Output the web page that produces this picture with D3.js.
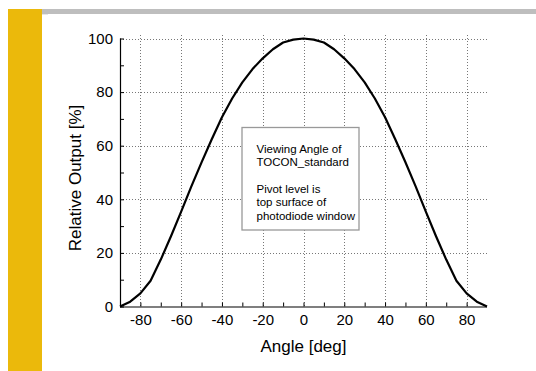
<!DOCTYPE html>
<html lang="en">
<head>
<meta charset="utf-8">
<title>Viewing Angle of TOCON_standard</title>
<script src="https://cdn.jsdelivr.net/npm/d3@7"></script>
<style>
  body { margin: 0; background: #fff; }
  text { font-family: "Liberation Sans", Arial, sans-serif; fill: #000; }
</style>
</head>
<body>
<script>
// measured curve, angle in deg vs relative output in %
var angles = [-90, -85, -80, -75, -70, -65, -60, -55, -50, -45, -40, -35, -30, -25, -20, -15, -10, -5, 0,
              5, 10, 15, 20, 25, 30, 35, 40, 45, 50, 55, 60, 65, 70, 75, 80, 85, 90];
var output = [0, 1.8, 4.9, 9.6, 17.5, 26.2, 35.4, 44.8, 53.8, 62.4, 70.6, 77.6, 83.6, 88.6, 92.6, 96, 98.5, 99.6, 100,
              99.6, 98.5, 96, 92.6, 88.6, 83.6, 77.6, 70.6, 62.4, 53.8, 44.8, 35.4, 26.2, 17.5, 9.6, 4.9, 1.8, 0];

var xTicks = [-80, -60, -40, -20, 0, 20, 40, 60, 80];
var yTicks = [0, 20, 40, 60, 80, 100];
var noteLines = ["Viewing Angle of", "TOCON_standard", "", "Pivot level is", "top surface of", "photodiode window"];

var w = 536, h = 371;

var svg = d3.select("body").append("svg")
    .attr("width", w)
    .attr("height", h);

// page decoration: gold side band and gray top rule
svg.append("rect").attr("x", 8).attr("y", 9).attr("width", 34).attr("height", h - 9).attr("fill", "#ebb90b");
svg.append("rect").attr("x", 42).attr("y", 9).attr("width", w - 42).attr("height", 5).attr("fill", "#bebebe");
svg.append("rect").attr("x", 42).attr("y", 14).attr("width", 6).attr("height", 1).attr("fill", "#e6e6e6");

// scales
var x = d3.scaleLinear().domain([-90, 90]).range([120, 487]);
var y = d3.scaleLinear().domain([0, 100]).range([306.5, 38.5]);

// grid
var grid = svg.append("g")
    .attr("stroke", "#777")
    .attr("stroke-width", 1)
    .attr("stroke-dasharray", "1,2");

grid.selectAll(".vg")
  .data(xTicks)
  .enter()
  .append("line")
  .attr("x1", function(d) { return Math.round(x(d)) + 0.5; })
  .attr("x2", function(d) { return Math.round(x(d)) + 0.5; })
  .attr("y1", 35)
  .attr("y2", y(0));

grid.selectAll(".hg")
  .data(yTicks.filter(function(d) { return d > 0; }))
  .enter()
  .append("line")
  .attr("x1", x(-90))
  .attr("x2", x(90))
  .attr("y1", function(d) { return Math.round(y(d)) + 0.5; })
  .attr("y2", function(d) { return Math.round(y(d)) + 0.5; });

// axes (ticks pointing inwards, minor ticks every 10)
var xAxis = d3.axisBottom(x)
    .tickValues(d3.range(-80, 81, 10))
    .tickSize(-4)
    .tickFormat(function(d) { return xTicks.indexOf(d) >= 0 ? d : ""; })
    .tickPadding(8);

var yAxis = d3.axisLeft(y)
    .tickValues(d3.range(0, 101, 10))
    .tickSize(-4)
    .tickFormat(function(d) { return yTicks.indexOf(d) >= 0 ? d : ""; })
    .tickPadding(7);

var gx = svg.append("g")
    .attr("transform", "translate(0," + y(0) + ")")
    .call(xAxis);

var gy = svg.append("g")
    .attr("transform", "translate(" + x(-90) + ",0)")
    .call(yAxis);

[gx, gy].forEach(function(g) {
  g.select(".domain").attr("stroke", "#000").attr("stroke-width", 1.2);
  g.selectAll(".tick line").attr("stroke", "#000");
  g.selectAll(".tick text")
   .style("font-family", "'Liberation Sans', Arial, sans-serif")
   .style("font-size", "15px")
   .attr("fill", "#000");
});
gx.select(".domain").attr("d", "M" + x(-90) + ",0.5H" + x(90));
gy.select(".domain").attr("d", "M0.5," + y(0) + "V" + y(100));

// axis titles
svg.append("text")
   .attr("x", x(0))
   .attr("y", 352)
   .attr("text-anchor", "middle")
   .style("font-size", "17px")
   .text("Angle [deg]");

svg.append("text")
   .attr("transform", "translate(81,178) rotate(-90)")
   .attr("text-anchor", "middle")
   .style("font-size", "17px")
   .text("Relative Output [%]");

// note box
svg.append("rect")
   .attr("x", 242)
   .attr("y", 127.5)
   .attr("width", 117)
   .attr("height", 102.5)
   .attr("fill", "#fff")
   .attr("stroke", "#999")
   .attr("stroke-width", 1.3);

svg.append("g")
   .selectAll("text")
   .data(noteLines)
   .enter()
   .append("text")
   .attr("x", 256.5)
   .attr("y", function(d, i) { return 152.5 + i * 13.4; })
   .style("font-size", "11.5px")
   .text(function(d) { return d; });

// curve
var line = d3.line()
    .x(function(d) { return x(d[0]); })
    .y(function(d) { return y(d[1]); });

svg.append("path")
   .datum(d3.zip(angles, output))
   .attr("fill", "none")
   .attr("stroke", "#000")
   .attr("stroke-width", 2.2)
   .attr("stroke-linejoin", "round")
   .attr("d", line);
</script>
</body>
</html>
